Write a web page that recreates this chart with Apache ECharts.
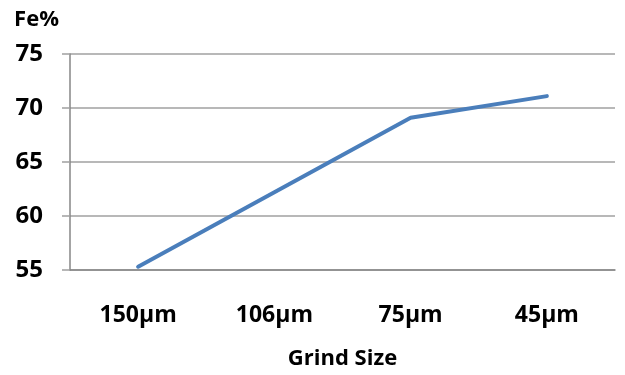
<!DOCTYPE html>
<html>
<head>
<meta charset="utf-8">
<script src="https://cdn.jsdelivr.net/npm/echarts@6/dist/echarts.min.js"></script>
<style>
  html, body { margin: 0; padding: 0; background: #fff; }
  #chart { width: 625px; height: 375px; }
</style>
</head>
<body>
<div id="chart"></div>
<script>
// Grind size categories and Fe grade per size
const grindSizes = ['150µm', '106µm', '75µm', '45µm'];
const feGrade = [55.3, 62.2, 69.1, 71.1];
const yMin = 55, yMax = 75, yStep = 5;

const FONT = '"Open Sans", "DejaVu Sans", sans-serif';
const chart = echarts.init(document.getElementById('chart'), null, { renderer: 'canvas' });

chart.setOption({
  animation: false,
  grid: { left: 70, right: 10, top: 54, bottom: 104.5, containLabel: false },
  xAxis: {
    type: 'category',
    data: grindSizes,
    boundaryGap: true,
    name: 'Grind Size',
    nameLocation: 'middle',
    nameGap: 78,
    nameTextStyle: { fontFamily: FONT, fontWeight: 'bold', fontSize: 22, color: '#000' },
    axisLine: { lineStyle: { color: '#868686', width: 1.5 } },
    axisTick: { show: false },
    axisLabel: { fontFamily: FONT, fontWeight: 'bold', fontSize: 23, color: '#000', margin: 34 },
    splitLine: { show: false }
  },
  yAxis: {
    type: 'value',
    min: yMin,
    max: yMax,
    interval: yStep,
    name: 'Fe%',
    nameLocation: 'end',
    nameGap: 23,
    nameTextStyle: { fontFamily: FONT, fontWeight: 'bold', fontSize: 22, color: '#000', align: 'right', padding: [0, 11, 0, 0] },
    axisLine: { show: true, lineStyle: { color: '#868686', width: 1.5 } },
    axisTick: { show: true, length: 8, lineStyle: { color: '#a0a0a0', width: 1.5 } },
    axisLabel: { fontFamily: FONT, fontWeight: 'bold', fontSize: 24, color: '#000', margin: 27 },
    splitLine: { show: true, lineStyle: { color: '#a0a0a0', width: 1.5 } }
  },
  series: [{
    type: 'line',
    data: feGrade,
    showSymbol: false,
    symbol: 'none',
    lineStyle: { color: '#4a7ebb', width: 4, cap: 'round', join: 'round' }
  }]
});
</script>
</body>
</html>
